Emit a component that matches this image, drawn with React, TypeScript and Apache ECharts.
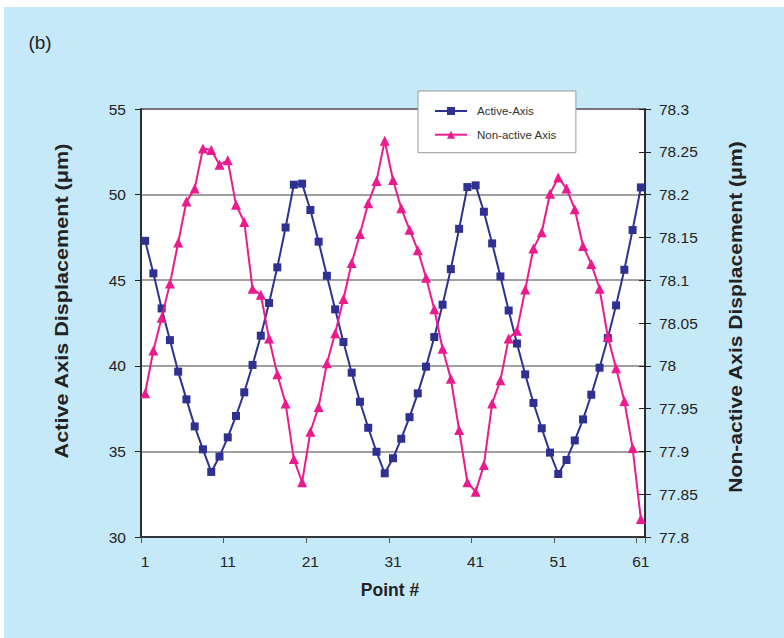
import React, { useEffect, useRef } from "react";
import * as echarts from "echarts";

const pointLabels: string[] = Array.from({ length: 61 }, (_, i) => String(i + 1));

const activeAxis: number[] = [
  47.3, 45.4, 43.35, 41.5, 39.66, 38.04, 36.46, 35.12, 33.8, 34.7,
  35.82, 37.07, 38.45, 40.05, 41.76, 43.67, 45.75, 48.08, 50.58, 50.64,
  49.1, 47.25, 45.26, 43.3, 41.39, 39.6, 37.9, 36.38, 34.98, 33.72,
  34.6, 35.74, 37.0, 38.39, 39.95, 41.68, 43.57, 45.65, 48.0, 50.44,
  50.54, 49.0, 47.15, 45.22, 43.23, 41.3, 39.5, 37.83, 36.35, 34.93,
  33.68, 34.5, 35.64, 36.87, 38.31, 39.89, 41.62, 43.53, 45.61, 47.93, 50.42,
];

const nonActiveAxis: number[] = [
  77.968, 78.018, 78.056, 78.096, 78.144, 78.192, 78.207, 78.254, 78.252, 78.235,
  78.24, 78.188, 78.168, 78.09, 78.083, 78.032, 77.99, 77.956, 77.891, 77.864,
  77.923, 77.952, 78.003, 78.038, 78.078, 78.12, 78.154, 78.19, 78.216, 78.263,
  78.217, 78.184, 78.159, 78.135, 78.103, 78.066, 78.02, 77.985, 77.925, 77.864,
  77.853, 77.884, 77.956, 77.983, 78.032, 78.041, 78.089, 78.137, 78.156, 78.201,
  78.22, 78.207, 78.183, 78.14, 78.119, 78.09, 78.034, 77.997, 77.959, 77.904, 77.821,
];

const seriesNames = ["Active-Axis", "Non-active Axis"];

const FONT = "'Liberation Sans', Arial, Helvetica, sans-serif";
const BLUE = "#2e3192";
const PINK = "#ec1a8c";

export default function App() {
  const ref = useRef<HTMLDivElement>(null);

  useEffect(() => {
    if (!ref.current) return;
    const chart = echarts.init(ref.current, undefined, { renderer: "svg" });
    const labelStyle = { fontFamily: FONT, fontSize: 15.5, color: "#222" };
    chart.setOption({
      animation: false,
      backgroundColor: "#c6e9f9",
      textStyle: { fontFamily: FONT },
      graphic: [
        { type: "rect", shape: { x: 0, y: 0, width: 784, height: 7 }, style: { fill: "#fff" }, silent: true },
        { type: "rect", shape: { x: 0, y: 0, width: 4, height: 638 }, style: { fill: "#fff" }, silent: true },
        {
          type: "text", x: 40, y: 42,
          style: { text: "(b)", fontSize: 19, fontFamily: FONT, fill: "#222", textAlign: "center", textVerticalAlign: "middle" },
        },
        {
          type: "text", x: 62, y: 301, rotation: Math.PI / 2, scaleX: 1.2,
          style: { text: "Active Axis Displacement (μm)", fontSize: 18, fontWeight: "bold", fontFamily: FONT, fill: "#222", textAlign: "center", textVerticalAlign: "middle" },
        },
        {
          type: "text", x: 736, y: 317, rotation: Math.PI / 2, scaleX: 1.17,
          style: { text: "Non-active Axis Displacement (μm)", fontSize: 18, fontWeight: "bold", fontFamily: FONT, fill: "#222", textAlign: "center", textVerticalAlign: "middle" },
        },
        {
          type: "text", x: 390, y: 590,
          style: { text: "Point #", fontSize: 17.5, fontWeight: "bold", fontFamily: FONT, fill: "#222", textAlign: "center", textVerticalAlign: "middle" },
        },
      ],
      legend: {
        data: seriesNames,
        orient: "vertical",
        left: 418,
        top: 91,
        padding: [14, 19, 12, 16],
        itemGap: 11.7,
        itemWidth: 32,
        itemHeight: 10,
        backgroundColor: "#fff",
        borderColor: "#9a9a9a",
        borderWidth: 1,
        borderRadius: 0,
        textStyle: { fontFamily: FONT, fontSize: 11.5, color: "#333", padding: [0, 0, 0, 5] },
      },
      grid: {
        left: 141,
        right: 139,
        top: 109,
        bottom: 101,
        show: true,
        backgroundColor: "#fff",
        borderColor: "#222",
        borderWidth: 1.5,
        containLabel: false,
      },
      xAxis: {
        type: "category",
        data: pointLabels,
        boundaryGap: true,
        axisLine: { show: true, lineStyle: { color: "#222", width: 1.5 } },
        axisTick: { show: true, interval: 9, length: 6, lineStyle: { color: "#555", width: 1 } },
        axisLabel: { ...labelStyle, interval: 9, margin: 16 },
        splitLine: { show: false },
      },
      yAxis: [
        {
          type: "value",
          min: 30,
          max: 55,
          interval: 5,
          position: "left",
          axisLine: { show: true, lineStyle: { color: "#222", width: 1.5 } },
          axisTick: { show: true, length: 6, lineStyle: { color: "#222", width: 1 } },
          axisLabel: { ...labelStyle, margin: 15 },
          splitLine: { show: true, lineStyle: { color: "#808080", width: 1.5 } },
        },
        {
          type: "value",
          min: 77.8,
          max: 78.3,
          interval: 0.05,
          position: "right",
          axisLine: { show: true, lineStyle: { color: "#222", width: 1.5 } },
          axisTick: { show: true, length: 6, lineStyle: { color: "#222", width: 1 } },
          axisLabel: { ...labelStyle, margin: 14, formatter: (v: number) => String(+v.toFixed(2)) },
          splitLine: { show: false },
        },
        {
          type: "value",
          min: 77.8,
          max: 78.3,
          interval: 0.05,
          position: "right",
          axisLine: { show: false },
          axisTick: { show: true, inside: true, length: 6, lineStyle: { color: "#222", width: 1 } },
          axisLabel: { show: false },
          splitLine: { show: false },
        },
      ],
      series: [
        {
          name: seriesNames[0],
          type: "line",
          data: activeAxis,
          yAxisIndex: 0,
          symbol: "rect",
          symbolSize: 8,
          showSymbol: true,
          showAllSymbol: true,
          lineStyle: { color: BLUE, width: 2 },
          itemStyle: { color: BLUE },
          z: 3,
        },
        {
          name: seriesNames[1],
          type: "line",
          data: nonActiveAxis,
          yAxisIndex: 1,
          symbol: "triangle",
          symbolSize: 10,
          showSymbol: true,
          showAllSymbol: true,
          lineStyle: { color: PINK, width: 2 },
          itemStyle: { color: PINK },
          z: 4,
        },
      ],
    });
    return () => chart.dispose();
  }, []);

  return (
    <div
      ref={ref}
      style={{ position: "absolute", left: 0, top: 0, width: 784, height: 638 }}
    />
  );
}
